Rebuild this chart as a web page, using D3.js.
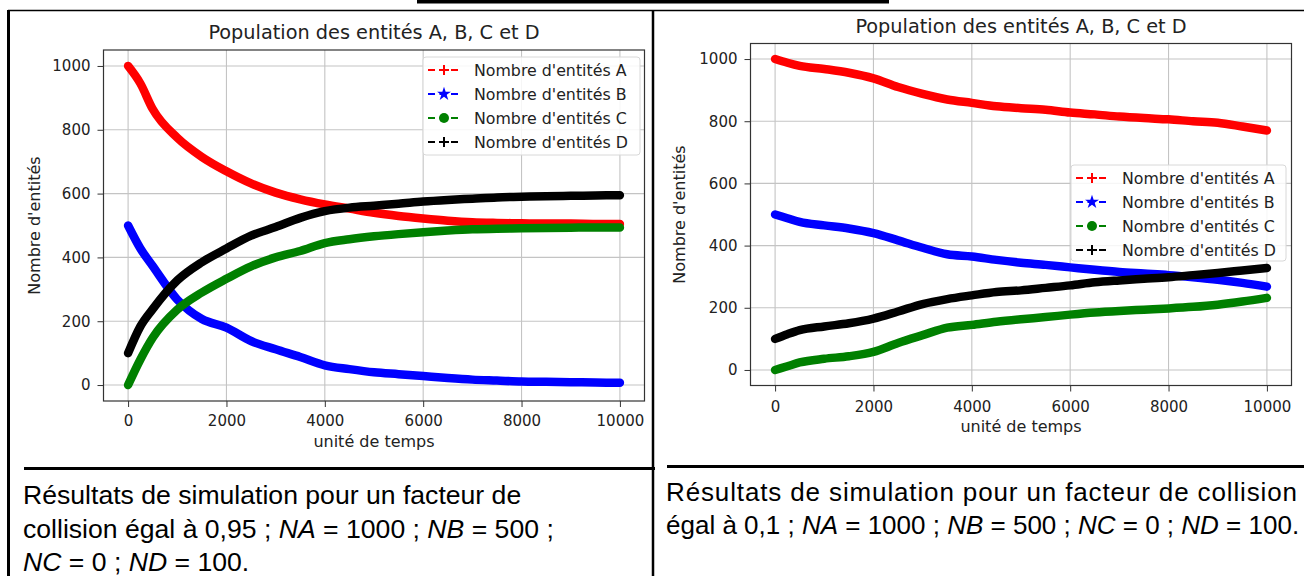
<!DOCTYPE html>
<html><head><meta charset="utf-8">
<script src="https://cdn.jsdelivr.net/npm/d3@7"></script>
<style>
html,body{margin:0;padding:0;background:#fff;}
svg{display:block;}
</style></head>
<body>
<svg id="c" width="1304" height="576"></svg>
<script>
// ---------- DATA ----------
const time = [0,250,500,1000,1500,2000,2500,3000,3500,4000,4500,5000,5500,6000,6500,7000,7500,8000,8500,9000,9500,10000];
// Left: collision factor 0.95
const leftA = [1000,945,865,775,715,670,632,603,582,566,553,540,530,522,515,510,508,507,506,506,505,505];
const leftB = [500,428,373,268,207,180,138,112,88,62,50,40,34,28,22,17,14,11,10,9,8,7];
const leftC = [0,80,148,236,290,333,372,400,420,445,457,466,473,479,484,488,490,491,492,493,494,494];
const leftD = [100,184,238,328,385,428,468,495,524,545,556,562,568,575,580,584,588,590,592,593,594,595];
// Right: collision factor 0.1
const rightA = [1000,988,978,968,956,938,910,888,870,859,848,842,837,828,822,815,810,806,800,795,783,770];
const rightB = [500,488,476,465,455,440,417,393,372,365,354,345,338,330,322,315,310,305,298,290,280,268];
const rightC = [0,12,24,36,44,58,87,112,136,145,155,163,170,178,185,190,194,198,203,210,220,232];
const rightD = [100,115,128,140,150,165,188,212,228,240,251,256,264,272,282,288,293,298,305,312,320,328];

const xTicks = [0,2000,4000,6000,8000,10000];
const yTicks = [0,200,400,600,800,1000];
const seriesNames = ["Nombre d'entités A","Nombre d'entités B","Nombre d'entités C","Nombre d'entités D"];
const seriesColors = ["#ff0000","#0000ff","#008000","#000000"];
const seriesMarkers = ["plus","star","circle","plus"];
const chartTitle = "Population des entités A, B, C et D";
const xLabel = "unité de temps";
const yLabel = "Nombre d'entités";

const svg = d3.select("#c");
const FONT = "DejaVu Sans, sans-serif";

function drawChart(cfg){
  const x = d3.scaleLinear().domain([-500,10500]).range([cfg.x0,cfg.x1]);
  const y = d3.scaleLinear().domain([-50,1050]).range([cfg.y1,cfg.y0]);
  const g = svg.append("g");
  // grid
  g.selectAll(".gx").data(xTicks).enter().append("line")
    .attr("x1",d=>x(d)).attr("x2",d=>x(d)).attr("y1",cfg.y0).attr("y2",cfg.y1)
    .attr("stroke","#c4c4c4").attr("stroke-width",1.1);
  g.selectAll(".gy").data(yTicks).enter().append("line")
    .attr("y1",d=>y(d)).attr("y2",d=>y(d)).attr("x1",cfg.x0).attr("x2",cfg.x1)
    .attr("stroke","#c4c4c4").attr("stroke-width",1.1);
  // series
  const line = d3.line().x((d,i)=>x(time[i])).y(d=>y(d)).curve(d3.curveMonotoneX);
  cfg.series.forEach((s,k)=>{
    g.append("path").attr("d",line(s)).attr("fill","none")
      .attr("stroke",seriesColors[k]).attr("stroke-width",8.5)
      .attr("stroke-linejoin","round").attr("stroke-linecap","round");
  });
  // axes
  const ax = g.append("g").attr("transform",`translate(0,${cfg.y1})`)
    .call(d3.axisBottom(x).tickValues(xTicks).tickSize(6).tickPadding(cfg.xpad).tickFormat(d3.format("d")));
  const ay = g.append("g").attr("transform",`translate(${cfg.x0},0)`)
    .call(d3.axisLeft(y).tickValues(yTicks).tickSize(6).tickPadding(7).tickFormat(d3.format("d")));
  [ax,ay].forEach(a=>{
    a.select(".domain").remove();
    a.selectAll("text").attr("font-family",FONT).attr("font-size",15).attr("fill","#222");
    a.selectAll("line").attr("stroke","#333");
  });
  // frame
  g.append("rect").attr("x",cfg.x0).attr("y",cfg.y0).attr("width",cfg.x1-cfg.x0).attr("height",cfg.y1-cfg.y0)
    .attr("fill","none").attr("stroke","#333").attr("stroke-width",1.2);
  // title & labels
  g.append("text").attr("x",(cfg.x0+cfg.x1)/2).attr("y",cfg.titleY).attr("text-anchor","middle")
    .attr("font-family",FONT).attr("font-size",19.3).attr("fill","#222").text(chartTitle);
  g.append("text").attr("x",(cfg.x0+cfg.x1)/2).attr("y",cfg.xlabY).attr("text-anchor","middle")
    .attr("font-family",FONT).attr("font-size",16).attr("fill","#222").text(xLabel);
  g.append("text").attr("transform",`translate(${cfg.ylabX},${(cfg.y0+cfg.y1)/2}) rotate(-90)`)
    .attr("text-anchor","middle").attr("font-family",FONT).attr("font-size",16).attr("fill","#222").text(yLabel);
  // legend
  const L = cfg.legend;
  const lg = g.append("g");
  lg.append("rect").attr("x",L.x).attr("y",L.y).attr("width",L.w).attr("height",L.h).attr("rx",3)
    .attr("fill","#fff").attr("fill-opacity",0.85).attr("stroke","#d8d8d8");
  seriesNames.forEach((n,k)=>{
    const cy = L.y + 13 + k*24;
    const hx0 = L.x+5, hx1 = L.x+37, mx = (hx0+hx1)/2;
    lg.append("line").attr("x1",hx0).attr("x2",hx1).attr("y1",cy).attr("y2",cy)
      .attr("stroke",seriesColors[k]).attr("stroke-width",2.2).attr("stroke-dasharray","7,4.5");
    const m = seriesMarkers[k];
    if(m==="plus"){
      lg.append("path").attr("d",`M${mx-5},${cy}H${mx+5}M${mx},${cy-5}V${cy+5}`)
        .attr("stroke",seriesColors[k]).attr("stroke-width",2);
    } else if(m==="star"){
      lg.append("path").attr("d",d3.symbol().type(d3.symbolStar).size(60)())
        .attr("transform",`translate(${mx},${cy})`).attr("fill",seriesColors[k]);
    } else {
      lg.append("circle").attr("cx",mx).attr("cy",cy).attr("r",5).attr("fill",seriesColors[k]);
    }
    lg.append("text").attr("x",L.x+51).attr("y",cy+5.5).attr("font-family",FONT).attr("font-size",15.8)
      .attr("fill","#222").text(n);
  });
}

drawChart({x0:103.5,x1:644.5,y0:50,y1:401,titleY:39,xlabY:447,ylabX:40,xpad:8,
  series:[leftA,leftB,leftC,leftD],legend:{x:423,y:57,w:217,h:98}});
drawChart({x0:750.5,x1:1291.5,y0:43.5,y1:385.5,titleY:33,xlabY:432,ylabX:685,xpad:10,
  series:[rightA,rightB,rightC,rightD],legend:{x:1071,y:165,w:215,h:96}});

// ---------- table lines ----------
const T = svg.append("g").attr("stroke","#000");
T.append("line").attr("x1",417).attr("x2",889).attr("y1",1.7).attr("y2",1.7).attr("stroke-width",3.5);
T.append("rect").attr("x",496).attr("y",0).attr("width",3).attr("height",2).attr("fill","#000").attr("stroke","none");
T.append("line").attr("x1",8).attr("x2",1304).attr("y1",10.5).attr("y2",10.5).attr("stroke-width",1.5);
T.append("line").attr("x1",8.5).attr("x2",8.5).attr("y1",10).attr("y2",576).attr("stroke-width",3);
T.append("line").attr("x1",653).attr("x2",653).attr("y1",10).attr("y2",576).attr("stroke-width",2.5);
T.append("line").attr("x1",24).attr("x2",655).attr("y1",468.5).attr("y2",468.5).attr("stroke-width",3);
T.append("line").attr("x1",667).attr("x2",1304).attr("y1",466.5).attr("y2",466.5).attr("stroke-width",3);

// ---------- captions ----------
const CF = "Liberation Sans, Arial, sans-serif";
function cap(x,y,size,parts,opt){
  const t = svg.append("text").attr("x",x).attr("y",y).attr("font-family",CF).attr("font-size",size).attr("fill","#000");
  if(opt&&opt.len){ t.attr("textLength",opt.len).attr("lengthAdjust","spacing"); }
  parts.forEach(p=>{ const s=t.append("tspan").text(p[0]); if(p[1]) s.attr("font-style","italic"); });
}
cap(23,504,26.6,[["Résultats de simulation pour un facteur de"]]);
cap(23,538,26.6,[["collision égal à 0,95 ; "],["NA",1],[" = 1000 ; "],["NB",1],[" = 500 ;"]]);
cap(23,571,26.6,[["NC",1],[" = 0 ; "],["ND",1],[" = 100."]]);
cap(666,501,26,[["Résultats de simulation pour un facteur de collision"]],{len:631});
cap(666,534,26,[["égal à 0,1 ; "],["NA",1],[" = 1000 ; "],["NB",1],[" = 500 ; "],["NC",1],[" = 0 ; "],["ND",1],[" = 100."]]);
</script>
</body></html>
